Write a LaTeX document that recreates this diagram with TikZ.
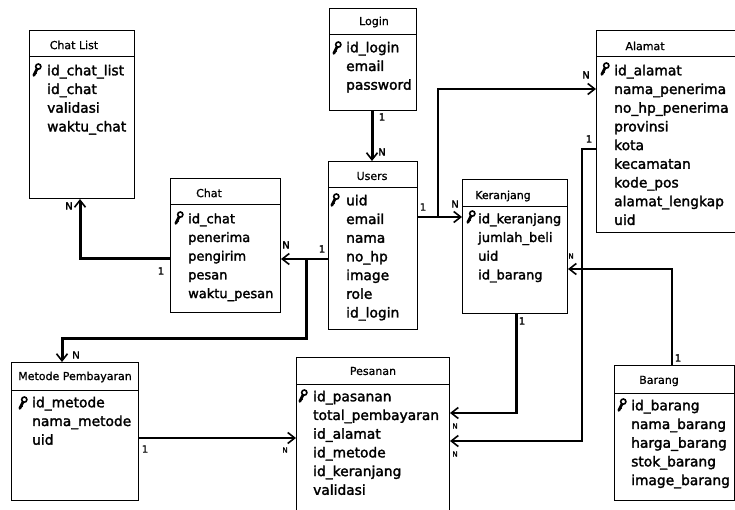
\documentclass[tikz,border=0pt]{standalone}
\usepackage{fontspec}
\setmainfont{DejaVu Sans}
\newfontfamily\fieldfont{DejaVu Sans}[FakeBold=2]
\newfontfamily\titlefont{DejaVu Sans}[FakeBold=1]
\usetikzlibrary{arrows.meta}
\tikzset{
  entity/.style={draw=black,line width=1pt,fill=white,inner sep=0pt,anchor=north west},
  headrule/.style={line width=1pt},
  titletext/.style={font=\titlefont\fontsize{11}{12}\selectfont,inner sep=0pt},
  fieldtext/.style={font=\fieldfont\fontsize{13.8}{18.7}\selectfont,inner sep=0pt,anchor=north west,align=left},
  fieldnarrow/.style={fieldtext,font=\fieldfont\fontsize{13}{18.7}\selectfont},
  link/.style={draw=black,line width=2.2pt,-{Straight Barb[length=7pt,width=11pt,line width=1.6pt]}},
  linkthin/.style={link,line width=1.4pt},
  linkthick/.style={link,line width=3pt},
  card/.style={font=\fieldfont\fontsize{10}{11}\selectfont,inner sep=0pt},
  cardsm/.style={font=\titlefont\fontsize{10}{11}\selectfont,inner sep=0pt},
  cardxs/.style={font=\fieldfont\fontsize{7}{8}\selectfont,inner sep=0pt},
  pics/keyicon/.style={code={
    \draw[line width=1.6pt,fill=white] (2.3,-3.4) circle (2.6pt);
    \draw[line width=2.8pt,line cap=round] (0.9,-0.8) -- (-2.2,5.4);
    \draw[line width=1.2pt] (-1.2,2.6) -- (0.8,3.6);
  }}
}
\begin{document}
\begin{tikzpicture}[x=1pt,y=-1pt]
\useasboundingbox (0,0) rectangle (735,510);
\fill[white] (0,0) rectangle (735,510);
\clip (0,0) rectangle (735,510);

% entities
\node[entity,minimum width=105pt,minimum height=168pt] (chatlist) at (29,30) {};
\node[entity,minimum width=110pt,minimum height=134pt] (chat) at (170,178) {};
\node[entity,minimum width=87pt,minimum height=102pt] (login) at (329,8) {};
\node[entity,minimum width=89pt,minimum height=168pt] (users) at (328,161) {};
\node[entity,minimum width=105pt,minimum height=134pt] (keranjang) at (462,179) {};
\node[entity,minimum width=145pt,minimum height=202pt] (alamat) at (596,30) {};
\node[entity,minimum width=127pt,minimum height=138pt] (metode) at (11,362) {};
\node[entity,minimum width=153pt,minimum height=160pt] (pesanan) at (296,357) {};
\node[entity,minimum width=120pt,minimum height=135pt] (barang) at (614,365) {};

% header rules
\draw[headrule] (chatlist.west |- 0,57) -- (chatlist.east |- 0,57);
\draw[headrule] (chat.west |- 0,205) -- (chat.east |- 0,205);
\draw[headrule] (login.west |- 0,35) -- (login.east |- 0,35);
\draw[headrule] (users.west |- 0,188) -- (users.east |- 0,188);
\draw[headrule] (keranjang.west |- 0,207) -- (keranjang.east |- 0,207);
\draw[headrule] (alamat.west |- 0,57) -- (alamat.east |- 0,57);
\draw[headrule] (metode.west |- 0,390) -- (metode.east |- 0,390);
\draw[headrule] (pesanan.west |- 0,384) -- (pesanan.east |- 0,384);
\draw[headrule] (barang.west |- 0,393) -- (barang.east |- 0,393);

% titles
\node[titletext] (tchatlist) at (74,45) {Chat List};
\node[titletext] (tchat) at (209,193) {Chat};
\node[titletext] (tlogin) at (374,22) {Login};
\node[titletext] (tusers) at (372,176) {Users};
\node[titletext] (tkeranjang) at (503,196) {Keranjang};
\node[titletext] (talamat) at (645,46) {Alamat};
\node[titletext] (tmetode) at (75,377) {Metode Pembayaran};
\node[titletext] (tpesanan) at (373,371) {Pesanan};
\node[titletext] (tbarang) at (659,381) {Barang};

% fields
\node[fieldtext] (fchatlist) at (47,62) {\strut id\_chat\_list\\id\_chat\\validasi\\waktu\_chat};
\node[fieldnarrow] (fchat) at (188,210) {\strut id\_chat\\penerima\\pengirim\\pesan\\waktu\_pesan};
\node[fieldtext] (flogin) at (346,39) {\strut id\_login\\email\\password};
\node[fieldtext] (fusers) at (346,192) {\strut uid\\email\\nama\\no\_hp\\image\\role\\id\_login};
\node[fieldnarrow] (fkeranjang) at (478,210) {\strut id\_keranjang\\jumlah\_beli\\uid\\id\_barang};
\node[fieldtext] (falamat) at (614,62) {\strut id\_alamat\\nama\_penerima\\no\_hp\_penerima\\provinsi\\kota\\kecamatan\\kode\_pos\\alamat\_lengkap\\uid};
\node[fieldtext] (fmetode) at (32,394) {\strut id\_metode\\nama\_metode\\uid};
\node[fieldtext] (fpesanan) at (313,388) {\strut id\_pasanan\\total\_pembayaran\\id\_alamat\\id\_metode\\id\_keranjang\\validasi};
\node[fieldtext] (fbarang) at (631,397) {\strut id\_barang\\nama\_barang\\harga\_barang\\stok\_barang\\image\_barang};

% keys
\pic at (36,70) {keyicon};
\pic at (178,218) {keyicon};
\pic at (336,48) {keyicon};
\pic at (334,200) {keyicon};
\pic at (470,217) {keyicon};
\pic at (604,69) {keyicon};
\pic at (22,403) {keyicon};
\pic at (302,396) {keyicon};
\pic at (621,405) {keyicon};

% connectors
\coordinate (usersK) at (users.east |- 0,217);
\coordinate (branchA) at (438,217);
\coordinate (usersC) at (users.west |- 0,259);
\coordinate (branchM) at (306,259);
\draw[linkthick] (login.south -| 372,0) -- (users.north -| 372,0);
\draw[linkthin] (usersK) -- (keranjang.west |- 0,217);
\draw[link] (branchA) -- (438,89) -- (alamat.west |- 0,89);
\draw[link] (usersC) -- (chat.east |- 0,259);
\draw[linkthick] (branchM) -- (306,338) -- (62,338) -- (metode.north -| 62,0);
\draw[linkthick] (chat.west |- 0,259) -- (80,259) -- (chatlist.south -| 80,0);
\draw[link] (metode.east |- 0,438) -- (pesanan.west |- 0,438);
\draw[link] (keranjang.south -| 516.5,0) -- (516.5,413) -- (pesanan.east |- 0,413);
\draw[link] (alamat.west |- 0,149) -- (582,149) -- (582,441) -- (pesanan.east |- 0,441);
\draw[link] (barang.north -| 672,0) -- (672,269) -- (keranjang.east |- 0,269);

% cardinalities
\node[card] (c1) at (382,117) {1};
\node[card] (c2) at (382,152) {N};
\node[cardsm] (c3) at (423,207) {1};
\node[cardsm] (c4) at (455,204) {N};
\node[card] (c5) at (586,75) {N};
\node[card] (c6) at (589,139) {1};
\node[card] (c7) at (286,245) {N};
\node[card] (c8) at (322,249) {1};
\node[card] (c9) at (69,206) {N};
\node[card] (c10) at (161,271) {1};
\node[cardsm] (c11) at (76,355) {N};
\node[cardsm] (c12) at (145,449) {1};
\node[cardxs] (c13) at (285,450) {N};
\node[card] (c14) at (522,321) {1};
\node[cardxs] (c15) at (455,426) {N};
\node[cardxs] (c16) at (455,454) {N};
\node[cardxs] (c17) at (571,256) {N};
\node[card] (c18) at (678,358) {1};
\end{tikzpicture}
\end{document}
